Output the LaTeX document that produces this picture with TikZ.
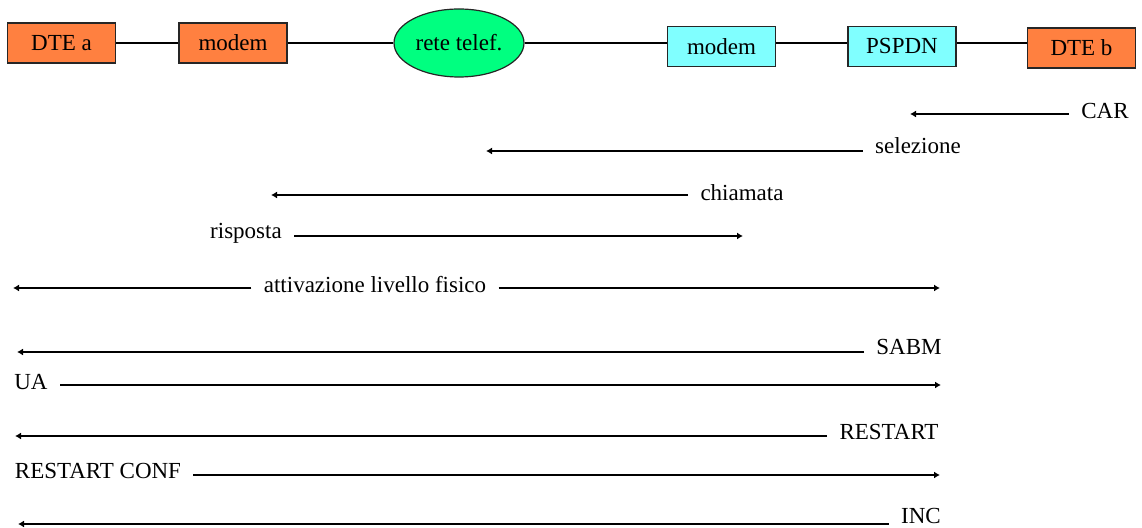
\documentclass[tikz,border=0pt]{standalone}
\usepackage{fontspec}
\setmainfont{Liberation Serif}
\usetikzlibrary{shapes.geometric,arrows.meta}
\definecolor{dteorange}{RGB}{255,128,64}
\definecolor{netcyan}{RGB}{128,255,255}
\definecolor{netgreen}{RGB}{0,255,128}
\begin{document}
\begin{tikzpicture}[x=0.5pt,y=-0.5pt,font=\fontsize{11.5}{13}\selectfont,
  stationbox/.style={draw=black!85,line width=0.6pt,minimum width=54pt,minimum height=20pt,inner sep=0pt},
  link/.style={line width=0.6pt},
  lbl/.style={inner sep=0pt},
  msg/.style={line width=0.6pt,-{Latex[length=3pt,width=3.5pt]},shorten <=6pt}]
\useasboundingbox (0,0) rectangle (1142,528);

\node[stationbox,fill=dteorange] (dtea) at (61.5,43) {DTE a};
\node[stationbox,fill=dteorange] (modema) at (233,43) {modem};
\node[draw=black!85,line width=0.6pt,fill=netgreen,ellipse,minimum width=65pt,minimum height=34pt,inner sep=0pt] (rete) at (459,43) {rete telef.};
\node[stationbox,fill=netcyan] (modemb) at (721.5,46.5) {modem};
\node[stationbox,fill=netcyan] (pspdn) at (902,46.5) {PSPDN};
\node[stationbox,fill=dteorange] (dteb) at (1081.5,48) {DTE b};

\path[draw,link] (dtea) -- (modema);
\path[draw,link] (modema) -- (rete);
\path[draw,link] (rete.east) -- (rete.east -| modemb.west);
\path[draw,link] (modemb.east |- rete.east) -- (pspdn.west |- rete.east);
\path[draw,link] (pspdn.east |- rete.east) -- (dteb.west |- rete.east);

\coordinate (car-end) at (910,114);
\coordinate (sel-end) at (486,151);
\coordinate (chi-end) at (271,195);
\coordinate (ris-end) at (743,236);
\coordinate (att-left) at (13,288);
\coordinate (att-right) at (940,288);
\coordinate (sabm-end) at (17,352);
\coordinate (ua-end) at (941,385);
\coordinate (rst-end) at (15,436);
\coordinate (rstc-end) at (940,475);
\coordinate (inc-end) at (18,524);

\node[lbl] (car) at (1105,111) {CAR};
\node[lbl] (sel) at (918,146) {selezione};
\node[lbl] (chi) at (742,193) {chiamata};
\node[lbl] (ris) at (246,233) {risposta};
\node[lbl] (att) at (375,285) {attivazione livello fisico};
\node[lbl] (sabm) at (909,347) {SABM};
\node[lbl] (ua) at (31,382) {UA};
\node[lbl] (rst) at (889,432) {RESTART};
\node[lbl] (rstc) at (98,471) {RESTART CONF};
\node[lbl] (inc) at (921,516) {INC};

\path[draw,msg] (car.west |- car-end) -- (car-end);
\path[draw,msg] (sel.west |- sel-end) -- (sel-end);
\path[draw,msg] (chi.west |- chi-end) -- (chi-end);
\path[draw,msg] (ris.east |- ris-end) -- (ris-end);
\path[draw,msg] (att.west |- att-left) -- (att-left);
\path[draw,msg] (att.east |- att-right) -- (att-right);
\path[draw,msg] (sabm.west |- sabm-end) -- (sabm-end);
\path[draw,msg] (ua.east |- ua-end) -- (ua-end);
\path[draw,msg] (rst.west |- rst-end) -- (rst-end);
\path[draw,msg] (rstc.east |- rstc-end) -- (rstc-end);
\path[draw,msg] (inc.west |- inc-end) -- (inc-end);
\end{tikzpicture}
\end{document}
